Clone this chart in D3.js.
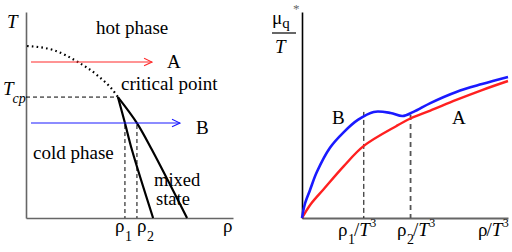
<!DOCTYPE html>
<html><head><meta charset="utf-8">
<script src="https://cdn.jsdelivr.net/npm/d3@7"></script>
<style>
html,body{margin:0;padding:0;background:#fff;}
</style></head>
<body><svg id="c" width="512" height="252"></svg>
<script>
// ---- data (normalized units) ----
// left panel: phase diagram (x = density rho, y = temperature T)
const coexistDotted = [[0.005,0.835],[0.13,0.816],[0.251,0.757],[0.343,0.694],[0.43,0.607],[0.444,0.587]];
const boundaryLeft  = [[0.444,0.587],[0.478,0.461],[0.512,0.33],[0.614,0]];
const boundaryRight = [[0.444,0.587],[0.536,0.461],[0.609,0.33],[0.778,0]];
const Tcp = 0.587, rhoCp = 0.444;
const pathA_T = 0.757, pathA_x = [0.024,0.609];
const pathB_T = 0.461, pathB_x = [0.024,0.744];
const rho1 = 0.478, rho2 = 0.536;
// right panel: mu_q*/T vs rho/T^3
const curveB = [[0,0],[0.014,0.068],[0.039,0.136],[0.072,0.223],[0.135,0.34],[0.203,0.417],[0.271,0.476],[0.348,0.515],[0.43,0.51],[0.488,0.495],[0.541,0.515],[0.623,0.558],[0.749,0.612],[0.874,0.65],[1.0,0.684]];
const curveA = [[0,0],[0.043,0.068],[0.106,0.141],[0.203,0.252],[0.3,0.35],[0.459,0.447],[0.527,0.483],[0.623,0.521],[0.749,0.573],[0.874,0.621],[1.0,0.665]];
const rho1T3 = 0.3, rho2T3 = 0.527;
const rho1T3Top = 0.515, rho2T3Top = 0.5;

const FONT = "Liberation Serif";
const svg = d3.select('#c').attr('font-family',FONT);
const lx = d3.scaleLinear().domain([0,1]).range([26,233]);
const ly = d3.scaleLinear().domain([0,1]).range([218,12]);
const rx = d3.scaleLinear().domain([0,1]).range([302,508]);
const ry = d3.scaleLinear().domain([0,1]).range([218,12]);

// markers
const defs = svg.append('defs');
[['arrR','#ff2a2a'],['arrB','#1a1aff']].forEach(([id,c])=>{
  defs.append('marker').attr('id',id).attr('viewBox','0 0 10 10').attr('refX',9).attr('refY',5)
    .attr('markerWidth',10).attr('markerHeight',10).attr('markerUnits','userSpaceOnUse').attr('orient','auto')
    .append('path').attr('d','M1,1.2 L9,5 L1,8.8').attr('fill','none').attr('stroke',c).attr('stroke-width',1.1);
});

// ---- LEFT PANEL ----
const gL = svg.append('g');
const axL = gL.append('g').attr('transform',`translate(0,${ly(0)})`).call(d3.axisBottom(lx).tickValues([]).tickSizeOuter(0));
const ayL = gL.append('g').attr('transform',`translate(${lx(0)},0)`).call(d3.axisLeft(ly).tickValues([]).tickSizeOuter(0));
[axL,ayL].forEach(a=>a.select('.domain').attr('stroke','#666').attr('stroke-width',1.6));

const lineL = d3.line().x(d=>lx(d[0])).y(d=>ly(d[1]));
gL.append('path').datum(coexistDotted).attr('d',lineL.curve(d3.curveMonotoneX))
  .attr('fill','none').attr('stroke','#000').attr('stroke-width',2.2).attr('stroke-dasharray','1.6,3.2');
const lineC = d3.line().x(d=>lx(d[0])).y(d=>ly(d[1])).curve(d3.curveCatmullRom);
[boundaryLeft,boundaryRight].forEach(b=>gL.append('path').datum(b).attr('d',lineC)
  .attr('fill','none').attr('stroke','#000').attr('stroke-width',2.2).attr('stroke-linejoin','round'));

// Tcp dashed
gL.append('line').attr('x1',lx(0)).attr('x2',lx(rhoCp)).attr('y1',ly(Tcp)).attr('y2',ly(Tcp))
  .attr('stroke','#000').attr('stroke-width',1).attr('stroke-dasharray','4,3');
// rho dashed verticals
[rho1,rho2].forEach(r=>gL.append('line').attr('x1',lx(r)).attr('x2',lx(r)).attr('y1',ly(pathB_T)+2).attr('y2',ly(0))
  .attr('stroke','#000').attr('stroke-width',1).attr('stroke-dasharray','4,3'));
// arrows
gL.append('line').attr('x1',lx(pathA_x[0])).attr('x2',lx(pathA_x[1])).attr('y1',ly(pathA_T)).attr('y2',ly(pathA_T))
  .attr('stroke','#ff2a2a').attr('stroke-width',1.1).attr('marker-end','url(#arrR)');
gL.append('line').attr('x1',lx(pathB_x[0])).attr('x2',lx(pathB_x[1])).attr('y1',ly(pathB_T)).attr('y2',ly(pathB_T))
  .attr('stroke','#1a1aff').attr('stroke-width',1.1).attr('marker-end','url(#arrB)');

const fs = 19;
function txt(g,x,y,s,opt={}){
  const t=g.append('text').attr('x',x).attr('y',y).attr('font-family',FONT).attr('font-size',opt.size||fs).attr('fill','#000').text(s);
  if(opt.italic) t.attr('font-style','italic');
  if(opt.anchor) t.attr('text-anchor',opt.anchor);
  return t;
}
txt(gL,7,28,'T',{italic:true});
txt(gL,96,34,'hot phase');
txt(gL,167,68,'A');
txt(gL,121,90,'critical point');
txt(gL,196,134,'B');
txt(gL,33,159,'cold phase');
txt(gL,154,186,'mixed',{size:18.5});
txt(gL,156,205,'state',{size:18.5});
// Tcp label
const tcp = gL.append('text').attr('x',3).attr('y',95).attr('font-family',FONT).attr('font-size',fs).attr('font-style','italic');
tcp.append('tspan').text('T');
tcp.append('tspan').attr('font-size',14).attr('dy',8).attr('dx',-1).text('cp');
// rho tick labels
function rhoLabel(g,x,sub){
  const t=g.append('text').attr('x',x).attr('y',232).attr('font-family',FONT).attr('font-size',fs);
  t.append('tspan').text('ρ');
  if(sub){ t.append('tspan').attr('font-size',14).attr('dy',9).attr('dx',0.5).text(sub); }
  return t;
}
rhoLabel(gL,lx(rho1)-10,'1');
rhoLabel(gL,lx(rho2),'2');
rhoLabel(gL,223,null);

// ---- RIGHT PANEL ----
const gR = svg.append('g');
const axR = gR.append('g').attr('transform',`translate(0,${ry(0)})`).call(d3.axisBottom(rx).tickValues([]).tickSizeOuter(0));
axR.select('.domain').attr('stroke','#666').attr('stroke-width',2);
const ayR = gR.append('g').attr('transform',`translate(${rx(0)},0)`).call(d3.axisLeft(ry).tickValues([]).tickSizeOuter(0));
ayR.select('.domain').attr('stroke','#000').attr('stroke-width',1.6);

gR.append('line').attr('x1',rx(rho1T3)).attr('x2',rx(rho1T3)).attr('y1',ry(rho1T3Top)).attr('y2',ry(0))
  .attr('stroke','#000').attr('stroke-width',1).attr('stroke-dasharray','5,3');
gR.append('line').attr('x1',rx(rho2T3)).attr('x2',rx(rho2T3)).attr('y1',ry(rho2T3Top)).attr('y2',ry(0))
  .attr('stroke','#555').attr('stroke-width',1.8).attr('stroke-dasharray','5,4');

const lineR = d3.line().x(d=>rx(d[0])).y(d=>ry(d[1])).curve(d3.curveCatmullRom.alpha(0.5));
gR.append('path').datum(curveA).attr('d',lineR).attr('fill','none').attr('stroke','#ff2020').attr('stroke-width',2.4);
gR.append('path').datum(curveB).attr('d',lineR).attr('fill','none').attr('stroke','#1a1aff').attr('stroke-width',2.6);

txt(gR,332,124,'B');
txt(gR,452,124,'A');

// y label fraction
const mu = gR.append('text').attr('x',272).attr('y',24).attr('font-family',FONT).attr('font-size',fs);
mu.append('tspan').text('μ');
mu.append('tspan').attr('font-size',15).attr('dy',4).attr('dx',0).text('q');
txt(gR,293,13,'*',{size:13}).attr('fill','#666');
gR.append('line').attr('x1',272).attr('x2',296).attr('y1',33).attr('y2',33).attr('stroke','#000').attr('stroke-width',1.2);
txt(gR,275,53,'T',{italic:true});

function rhoT3(g,x,sub){
  const t=g.append('text').attr('x',x).attr('y',236).attr('font-family',FONT).attr('font-size',fs);
  t.append('tspan').text('ρ');
  let back=0;
  if(sub){ t.append('tspan').attr('font-size',14).attr('dy',8).attr('dx',0.5).text(sub); back=-8; }
  t.append('tspan').attr('dy',back).attr('dx',-1).text('/');
  t.append('tspan').attr('font-style','italic').text('T');
  t.append('tspan').attr('font-size',12).attr('dy',-9).attr('dx',0.5).text('3');
  return t;
}
rhoT3(gR,338,'1');
rhoT3(gR,397,'2');
rhoT3(gR,478,null);
</script></body></html>
